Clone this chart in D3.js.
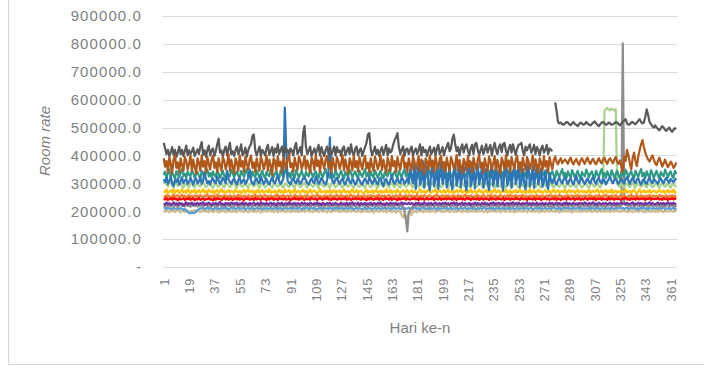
<!DOCTYPE html>
<html><head><meta charset="utf-8">
<script src="https://cdn.jsdelivr.net/npm/d3@7/dist/d3.min.js"></script>
<style>body{margin:0;background:#fff}svg{display:block}</style>
</head><body>
<script>
// values in thousands of rupiah
const UNIT = 1000;
const yTicks = [0,100000,200000,300000,400000,500000,600000,700000,800000,900000];
const xTickDays = [1,19,37,55,73,91,109,127,145,163,181,199,217,235,253,271,289,307,325,343,361];
const days = d3.range(1, 366);

const rateTan = [
202,198,205,200,196,204,199,203,197,201,206,199,195,202,200,197,204,198,201,196,203,199,205,197,200,
204,197,201,199,206,198,202,196,203,200,197,205,199,201,195,203,198,204,200,196,202,199,206,197,201,
198,203,196,201,205,199,202,197,204,200,196,203,199,206,197,201,198,204,200,195,202,199,205,198,201,
203,199,205,197,200,204,196,202,199,206,198,201,197,203,200,196,205,199,202,198,204,197,201,199,203,
197,202,200,205,198,201,196,204,199,203,197,200,206,198,202,199,195,204,200,197,203,199,201,205,198,
201,197,204,199,202,196,205,200,198,203,199,201,197,204,200,196,202,199,206,198,201,197,203,200,195,
204,199,202,197,205,200,198,203,196,201,199,204,197,202,200,195,203,199,201,185,178,190,172,180,195,
200,186,204,198,201,197,203,199,205,196,202,200,198,204,197,201,199,203,196,202,200,205,198,201,197,
203,199,201,196,204,200,198,202,197,205,199,201,196,203,200,198,204,197,202,199,206,198,201,197,203,
199,204,197,201,200,196,203,198,205,199,202,197,201,204,196,200,203,199,197,202,205,198,201,199,196,
202,198,205,199,201,197,204,200,196,203,199,202,198,205,197,201,200,196,204,199,202,197,203,200,198,
205,199,201,197,203,200,196,204,198,202,199,206,197,201,200,195,203,199,202,198,204,197,201,199,203,
198,202,200,205,197,201,199,204,196,203,200,198,202,197,205,199,201,196,204,200,198,203,199,201,197,
203,199,205,198,201,197,204,200,196,202,199,203,197,201,205,198,200,196,204,199,202,197,203,200,198,
201,197,204,199,202,196,203,200,198,205,199,201,197,203,200];

const rateLightBlue = [
210,212,208,214,209,211,206,213,210,208,212,207,211,209,205,208,203,198,194,192,196,193,195,199,204,
208,211,209,213,207,210,212,208,214,209,206,211,213,208,210,207,212,209,214,208,211,206,210,213,209,
212,207,210,214,208,211,209,213,206,210,212,208,211,214,207,209,212,210,208,213,206,211,209,212,208,
210,213,207,211,209,214,208,210,212,206,211,209,213,208,210,212,207,214,209,211,208,213,210,206,212,
208,211,214,207,210,212,209,213,208,206,211,210,214,207,212,209,211,208,213,210,206,212,209,214,208,
211,209,213,207,210,212,208,214,209,211,206,210,213,208,212,209,207,211,214,208,210,212,209,206,211,
213,208,210,212,207,211,209,214,208,210,212,206,211,209,213,208,210,214,207,211,209,212,208,210,213,
207,211,209,213,210,208,212,206,211,214,209,210,208,213,207,211,209,212,210,206,213,208,211,209,214,
209,212,207,210,213,208,211,209,214,206,210,212,208,211,213,207,210,209,212,208,214,210,207,211,209,
212,208,211,214,207,210,209,213,208,212,206,211,209,214,208,210,212,207,211,209,213,208,210,212,206,
210,213,208,211,209,212,207,214,210,208,211,213,206,209,212,210,208,214,207,211,209,213,208,210,212,
207,211,214,209,210,208,213,206,211,209,212,210,214,208,211,207,213,209,210,212,208,214,207,211,209,
211,209,212,207,213,210,208,214,209,211,206,212,210,208,213,209,211,207,214,210,208,212,209,211,213,
209,212,208,211,214,207,210,212,209,213,208,211,206,210,214,209,212,208,211,207,213,210,209,212,208,
211,208,213,209,210,214,207,211,209,212,208,210,213,207,211];

const rateGray = [
220,218,224,216,222,219,225,217,221,223,215,220,226,218,222,217,224,219,221,216,223,220,218,225,217,
222,219,224,216,221,225,218,220,223,217,222,219,226,216,221,224,218,220,222,217,225,219,221,216,223,
218,224,220,217,222,219,225,216,221,223,218,220,224,217,222,219,226,218,221,216,223,220,218,224,219,
221,217,223,220,218,225,216,222,219,224,218,221,216,223,220,225,217,222,219,221,216,224,218,220,223,
217,222,219,224,216,221,225,218,220,223,217,222,219,226,216,221,224,218,220,222,217,225,219,221,216,
223,218,224,220,217,222,219,225,216,221,223,218,220,224,217,222,219,226,218,221,216,223,220,218,224,
219,221,217,223,220,218,225,216,222,219,224,218,221,216,223,220,225,217,222,219,215,200,170,128,195,
205,212,219,224,216,221,225,218,220,223,217,222,219,226,216,221,224,218,220,222,217,225,219,221,216,
223,218,224,220,217,222,219,225,216,221,223,218,220,224,217,222,219,226,218,221,216,223,220,218,224,
219,221,217,223,220,218,225,216,222,219,224,218,221,216,223,220,225,217,222,219,221,216,224,218,220,
223,217,222,219,224,216,221,225,218,220,223,217,222,219,226,216,221,224,218,220,222,217,225,219,221,
216,223,218,224,220,217,222,219,225,216,221,223,218,220,224,217,222,219,226,218,221,216,223,220,218,
224,219,221,217,223,220,218,225,216,222,219,224,218,221,216,223,220,225,217,222,219,221,216,224,218,
220,802,236,223,230,217,222,219,224,216,221,225,218,220,223,217,222,219,226,216,221,224,218,220,222,
217,225,219,221,216,223,218,224,220,217,222,219,225,216,221];

const ratePurple = [
228,224,231,226,229,222,227,232,225,229,223,230,226,228,221,227,232,224,229,226,231,223,228,225,230,
224,229,226,232,223,228,225,231,227,222,229,226,230,224,228,233,225,227,222,230,226,229,224,231,227,
229,225,231,223,228,226,232,224,229,227,222,230,225,228,231,224,227,229,223,232,226,228,225,230,224,
227,231,224,229,226,222,230,228,225,231,223,227,229,224,232,226,228,225,230,223,229,227,224,231,226,
230,225,228,223,231,227,224,229,226,232,225,228,222,230,227,224,229,226,231,223,228,225,230,227,224,
226,231,224,228,225,230,223,229,227,232,224,228,226,231,222,229,227,225,230,224,228,226,231,223,229,
228,224,230,226,232,225,227,223,229,228,224,231,226,229,225,230,223,228,226,232,224,229,227,225,230,
225,229,227,223,230,226,231,224,228,225,232,227,224,229,226,230,223,228,231,225,227,229,224,230,226,
231,226,228,224,229,227,232,225,230,223,228,226,231,224,229,227,225,230,222,228,226,231,224,229,227,
224,230,226,231,225,228,223,229,227,232,224,229,226,230,225,228,231,223,227,229,224,230,226,232,225,
229,225,231,227,224,230,226,228,232,225,229,223,230,227,225,231,224,228,226,230,223,229,227,225,231,
226,230,224,228,231,225,229,227,223,230,226,232,224,229,227,225,231,226,228,224,230,227,229,225,232,
228,224,230,226,229,232,225,228,223,231,227,225,229,226,230,224,228,231,225,227,230,224,229,226,228,
231,226,228,224,230,227,225,229,232,224,228,226,231,225,229,227,223,230,226,228,232,225,229,227,224,
228,231,225,229,226,230,224,228,232,226,229,225,230,227,224];

const rateGold = [
272,268,278,265,270,275,268,280,266,272,276,264,270,278,268,273,266,279,271,265,274,269,277,264,270,
276,266,271,279,267,273,265,278,270,268,275,263,272,277,266,270,280,268,274,265,271,276,267,273,269,
265,278,270,268,274,263,271,277,266,272,279,267,270,275,264,273,268,278,266,271,276,265,270,274,268,
279,266,272,268,275,264,270,277,267,273,265,278,269,271,276,264,272,268,280,266,270,274,265,271,277,
267,273,264,270,278,266,272,275,268,263,271,279,267,270,274,265,273,268,277,264,270,276,266,272,269,
275,265,271,278,267,270,273,264,272,279,266,269,276,265,271,274,268,263,270,277,266,273,268,275,264,
271,278,266,270,274,265,272,268,279,267,270,276,264,271,273,266,278,269,265,272,275,267,270,277,264,
270,276,266,273,268,264,271,279,267,270,274,265,272,277,268,266,273,270,278,264,271,275,267,269,276,
265,272,278,267,270,274,263,271,276,268,272,279,266,270,275,264,273,268,277,266,271,274,265,270,278,
268,273,265,271,277,266,270,274,264,272,279,267,270,276,265,271,273,268,278,266,270,275,264,272,269,
276,266,271,278,267,270,274,265,272,268,279,266,271,275,264,270,277,268,273,265,271,276,267,270,274,
264,272,278,267,270,275,266,271,273,268,279,265,270,276,267,272,274,264,271,277,266,270,275,268,273,
266,271,277,265,270,274,268,272,279,266,270,275,264,271,276,267,273,268,278,265,270,274,266,272,269,
275,266,271,278,267,270,273,265,272,277,268,264,271,279,266,270,275,267,272,268,276,265,271,274,270,
266,272,277,268,270,274,265,271,276,267,273,269,278,266,271];

const rateOrange = [
255,250,258,252,256,249,254,260,251,255,257,250,253,259,252,256,249,254,258,251,255,250,257,253,256,
251,258,253,249,256,254,260,250,255,252,257,249,254,259,251,256,253,250,258,252,255,249,257,254,251,
256,250,254,259,252,255,249,257,253,251,258,254,250,256,252,260,249,255,253,257,250,254,258,251,255,
249,257,253,251,256,254,259,250,255,252,258,249,254,257,251,256,253,250,259,252,255,249,257,254,251,
256,251,258,253,249,255,257,252,254,260,250,256,253,249,257,252,255,251,258,254,250,256,253,259,251,
254,258,250,255,252,257,249,254,259,251,256,253,250,258,252,255,249,257,254,251,256,250,258,253,255,
249,256,253,259,251,255,252,257,250,254,258,252,249,256,253,257,251,255,260,250,254,252,258,249,255,
253,257,250,255,252,259,249,254,256,251,258,253,250,255,257,252,249,256,254,259,251,255,252,257,250,
256,252,258,250,254,257,251,255,249,258,253,256,250,254,259,252,255,251,257,253,249,256,252,258,254,
251,255,258,252,250,256,254,259,250,253,257,251,255,249,258,254,252,256,250,257,253,259,251,255,252,
258,250,254,256,252,259,251,255,253,249,257,252,256,254,250,258,253,255,251,257,249,254,256,252,258,
252,256,250,257,254,251,259,253,255,249,256,252,258,250,254,257,251,255,253,259,250,256,252,254,257,
250,255,258,252,256,249,254,257,251,258,253,250,256,254,259,251,255,252,257,250,254,258,253,249,256,
254,251,257,253,250,256,252,259,254,251,255,258,250,253,257,252,255,249,256,254,258,251,253,257,252,
255,250,258,253,256,251,254,257,249,255,252,258,250,256,253];

const rateRed = [
245,242,247,240,244,246,241,248,243,245,239,246,242,244,247,240,245,243,248,241,244,246,239,245,242,
247,241,244,246,240,245,243,248,242,244,239,246,241,247,243,245,240,244,248,242,246,241,243,247,240,
244,246,242,248,241,245,243,239,246,244,247,241,243,245,240,248,242,246,244,241,247,243,245,239,246,
242,245,247,241,244,246,240,248,243,245,242,247,241,244,246,239,245,243,248,242,246,241,244,247,243,
240,246,243,245,241,248,244,242,246,240,245,247,243,241,246,244,248,242,245,240,247,243,246,241,244,
247,242,245,243,248,241,244,246,240,245,243,247,242,246,244,241,248,243,245,239,246,242,247,244,241,
245,243,248,241,246,244,240,247,243,245,242,248,241,244,246,243,239,247,242,245,244,248,241,246,243,
241,246,244,247,242,245,240,248,243,246,241,244,247,242,245,243,248,240,246,244,242,247,241,245,243,
246,242,247,243,245,241,248,244,240,246,243,247,242,245,241,248,244,246,240,247,243,245,242,248,241,
244,247,241,246,243,245,240,248,242,246,244,241,247,243,245,242,248,240,246,243,247,241,245,244,242,
247,243,245,241,248,244,242,246,240,247,243,245,242,248,241,246,244,247,240,245,243,248,242,246,241,
243,246,242,248,241,245,244,240,247,243,246,241,248,244,242,245,247,240,246,243,248,241,245,242,247,
245,241,247,243,246,242,248,240,245,244,247,241,246,243,245,240,248,242,246,244,241,247,243,245,242,
241,246,244,248,242,245,240,247,243,246,241,248,244,242,246,243,247,240,245,244,248,241,246,243,245,
244,247,242,245,241,248,243,246,240,245,243,247,242,246,244];

const rateLightGreen = [
300,306,295,288,310,301,292,285,298,305,290,296,302,288,284,295,300,292,286,298,304,290,285,296,300,
292,288,300,306,294,286,290,298,302,288,284,296,300,292,287,295,303,290,285,298,301,293,286,290,299,
304,289,284,296,300,291,287,294,302,290,285,297,301,292,288,295,303,289,284,298,300,293,286,291,298,
305,290,284,296,301,292,288,294,302,289,285,297,300,291,287,295,304,290,284,298,301,292,286,290,299,
303,289,285,296,300,292,287,295,302,290,284,297,301,291,288,294,303,289,285,298,300,293,286,291,298,
305,290,284,296,301,292,288,294,302,289,285,297,300,291,287,295,304,290,284,298,301,292,286,290,299,
302,288,284,295,300,293,287,296,303,290,285,298,301,291,286,294,302,289,284,297,300,292,288,291,298,
305,291,285,296,300,292,287,294,301,289,284,297,302,290,288,295,304,291,285,298,300,293,286,290,299,
303,290,284,296,301,291,287,295,302,289,285,298,300,292,288,294,303,290,284,297,301,292,287,291,298,
304,289,285,296,300,293,286,294,302,290,284,297,301,291,288,295,303,289,285,298,300,292,287,290,299,
302,290,284,295,301,292,288,294,303,289,285,297,300,291,286,296,304,290,284,298,301,293,287,291,298,
305,290,285,296,300,292,287,295,302,289,284,298,301,291,288,294,303,290,285,297,300,292,286,290,299,
303,289,284,296,301,293,287,294,302,290,285,297,300,560,566,570,564,562,568,565,561,566,298,291,288,
304,290,285,296,300,292,287,295,302,289,284,298,301,291,288,294,303,290,285,297,300,292,286,290,299,
302,289,285,296,301,292,288,294,303,290,284,297,300,291,288];

const rateTeal = [
330,342,318,336,350,324,338,328,316,344,334,321,339,351,327,335,319,343,331,325,347,337,319,334,341,
327,317,345,333,323,339,349,325,337,321,343,329,323,347,335,319,333,345,327,317,341,331,325,349,337,
321,335,343,327,319,345,333,323,339,351,325,337,319,343,329,321,347,335,319,333,345,327,317,341,331,
325,349,337,321,335,343,327,319,345,333,323,339,351,325,337,319,343,329,321,347,335,319,333,345,327,
317,341,331,325,349,337,321,335,343,327,319,345,333,323,339,351,325,337,319,343,329,321,347,335,319,
333,345,327,317,341,331,325,349,337,321,335,343,327,319,345,333,323,339,351,325,337,319,343,329,321,
347,335,319,333,345,327,317,341,331,325,349,337,321,335,343,327,319,345,333,323,339,351,325,337,319,
343,329,321,347,335,319,333,345,327,317,341,331,325,349,337,321,335,343,327,319,345,333,323,339,351,
325,337,319,343,329,321,347,335,319,333,345,327,317,341,331,325,349,337,321,335,343,327,319,345,333,
323,339,351,325,337,319,343,329,321,347,335,319,333,345,327,317,341,331,325,349,337,321,335,343,327,
319,345,333,323,339,351,325,337,319,343,329,321,347,335,319,333,345,327,317,341,331,325,349,337,321,
335,343,327,319,345,333,323,339,351,325,337,319,343,329,321,347,335,319,333,345,327,317,341,331,325,
349,337,321,335,343,327,319,345,333,323,339,351,325,337,319,343,329,321,347,335,319,333,345,327,317,
341,331,325,349,337,321,335,343,327,319,345,333,323,339,351,325,337,319,343,329,321,347,335,319,333,
345,327,317,341,331,325,349,337,321,335,343,327,319,345,333];

const rateBlue = [
315,305,320,298,310,325,300,290,312,305,318,296,308,322,300,310,315,298,305,320,308,295,312,318,300,
306,322,298,310,340,315,300,308,296,312,318,305,300,325,310,298,306,320,312,300,345,315,305,298,310,
318,304,296,312,322,300,308,315,298,306,320,350,310,300,296,312,318,304,300,325,310,298,306,316,302,
296,310,322,305,300,314,330,308,298,305,318,572,420,310,302,296,312,320,305,300,315,308,298,306,318,
320,312,300,296,310,318,305,300,325,312,298,306,320,310,300,296,312,340,465,330,305,300,314,320,306,
298,310,318,302,296,312,324,305,300,316,308,296,304,320,312,300,295,310,318,304,300,322,310,298,306,
318,305,296,312,320,300,290,310,316,302,296,312,330,305,298,310,318,304,300,322,312,298,306,318,300,
350,320,300,370,280,340,365,295,310,380,285,330,360,300,275,345,372,290,315,360,280,335,375,298,320,
365,285,310,355,300,278,340,368,292,318,372,286,330,360,300,275,345,380,290,312,358,282,336,370,296,
322,362,284,308,352,300,276,342,366,292,316,374,288,328,358,302,274,344,378,292,310,356,284,334,368,
298,320,364,286,306,350,300,278,340,372,290,314,360,284,330,366,296,318,354,288,306,346,300,280,338,
310,300,318,305,296,312,320,306,300,315,322,308,298,310,318,304,296,312,326,306,300,314,320,305,298,
310,318,304,300,316,322,306,298,312,320,305,300,318,310,296,306,314,322,308,300,312,318,305,298,310,
316,304,300,315,322,308,298,312,320,306,300,314,318,304,296,310,316,302,298,312,320,306,300,315,310,
304,298,312,318,306,300,314,320,308,302,316,310,304,312,318];

const rateDarkGray = [
445,425,405,420,398,412,430,402,420,395,410,432,405,420,398,415,435,400,418,405,415,428,398,410,422,
405,430,448,402,418,395,420,435,400,418,425,398,415,440,460,410,418,395,420,432,400,425,445,405,415,
398,418,432,405,418,440,400,410,428,395,418,432,440,470,475,420,400,415,432,398,420,412,400,425,438,
402,415,430,398,425,410,440,405,418,432,398,430,412,420,398,425,418,400,430,445,405,415,430,400,480,
505,430,405,418,432,398,412,425,405,420,438,400,430,412,398,420,432,405,428,400,415,432,400,430,412,
418,398,425,432,400,415,428,405,440,412,398,425,432,400,418,425,398,415,430,445,475,480,425,400,415,
432,405,420,398,418,430,402,420,438,400,425,410,418,440,455,465,480,430,405,420,432,398,420,425,405,
420,432,398,415,425,405,420,440,400,430,412,420,398,418,432,405,415,428,400,425,438,405,415,430,400,
420,432,445,415,425,460,475,440,415,430,400,425,440,410,430,440,418,400,425,438,405,440,445,420,402,
418,435,405,420,440,410,425,438,400,425,445,420,405,430,440,412,440,445,418,400,425,438,410,440,420,
402,425,438,440,445,415,400,432,418,430,440,410,420,438,405,430,420,400,425,435,410,420,438,405,425,
420,415,null,590,560,520,515,518,512,510,515,520,518,512,508,515,520,512,510,505,512,518,515,510,512,
520,515,510,508,512,518,522,515,510,505,512,518,520,515,510,512,518,515,510,512,515,520,518,512,508,
515,520,525,530,515,510,512,518,520,515,512,518,525,530,520,515,518,540,565,545,520,512,505,500,508,
500,495,490,498,505,500,492,488,495,500,490,485,492,498,495];

const rateBrown = [
390,360,380,340,395,370,335,385,400,355,375,340,390,365,345,395,380,350,370,400,345,385,360,335,390,
375,345,400,360,380,340,395,370,350,385,400,355,375,340,390,365,345,395,380,350,370,405,345,385,360,
335,390,375,345,400,360,380,340,395,370,350,385,400,355,375,340,390,365,345,395,380,350,370,400,345,
385,365,330,390,380,345,398,362,378,338,392,372,352,388,402,358,372,342,392,368,348,396,382,352,368,
398,350,382,362,338,392,378,348,402,362,382,342,396,372,352,386,398,356,376,340,392,366,346,394,380,
352,372,402,346,386,360,336,390,376,346,400,358,380,342,394,370,350,384,398,354,374,340,390,362,344,
396,378,350,368,400,348,384,360,338,392,374,344,398,362,380,340,394,368,348,386,402,356,374,342,390,
364,346,396,380,350,370,398,344,386,362,334,390,376,348,400,360,382,340,396,370,352,388,398,354,376,
342,392,366,346,394,378,352,368,402,346,384,360,336,388,374,344,398,358,378,340,392,368,350,386,400,
356,374,338,390,364,344,396,380,350,370,398,346,384,362,336,392,376,348,400,360,382,342,394,370,352,
386,398,354,376,340,392,366,346,394,380,352,368,400,348,386,360,338,390,374,346,398,360,380,342,394,
370,350,384,396,376,368,382,390,372,380,386,378,370,384,392,376,368,380,388,374,366,382,390,378,370,
384,392,376,370,382,388,374,368,380,390,378,372,386,392,378,370,384,390,380,372,386,394,378,370,382,
360,340,396,380,420,400,372,350,390,410,380,362,395,420,440,455,430,410,396,385,378,390,400,386,372,
365,380,392,378,360,370,385,372,358,366,378,370,355,362,375];

// drawing order (first = bottom)
const seriesValues = [rateTan, rateLightBlue, rateGray, ratePurple, rateGold, rateOrange, rateRed,
                      rateLightGreen, rateTeal, rateBlue, rateDarkGray, rateBrown];
const seriesColors = ["#cdbd8e", "#5b9bd5", "#8c8c8c", "#7030a0", "#ffc000", "#ed7d31", "#ff0000",
                      "#a9d18e", "#2e9a86", "#2e75b6", "#595959", "#b0581a"];

const W = 704, H = 369;
const svg = d3.select("body").append("svg").attr("width", W).attr("height", H);
const FONT = "'Liberation Sans', Arial, sans-serif";

// outer frame
svg.append("rect").attr("x", 8.5).attr("y", -2).attr("width", 720).attr("height", 366.5)
  .attr("fill", "none").attr("stroke", "#d9d9d9").attr("stroke-width", 1.2);

const x = d3.scalePoint().domain(days).range([163.7, 676.3]);
const y = d3.scaleLinear().domain([0, 900000]).range([267, 16]);
const plotL = 163, plotR = 677;

// gridlines
svg.append("g").selectAll("line").data(yTicks).join("line")
  .attr("x1", plotL).attr("x2", plotR)
  .attr("y1", d => Math.round(y(d)) + 0.5).attr("y2", d => Math.round(y(d)) + 0.5)
  .attr("stroke", "#d9d9d9").attr("stroke-width", 1);

// y axis labels
const yAxis = svg.append("g").attr("transform", `translate(${plotL},0)`)
  .call(d3.axisLeft(y).tickValues(yTicks).tickSize(0).tickPadding(21)
    .tickFormat(d => d === 0 ? "-" : d.toFixed(1)));
yAxis.select(".domain").remove();
yAxis.selectAll("text").attr("font-family", FONT).attr("font-size", 15)
  .attr("letter-spacing", 1.1).attr("fill", "#7f7f7f");

// x axis labels
const xAxis = svg.append("g").attr("transform", `translate(0,${y(0)})`)
  .call(d3.axisBottom(x).tickValues(xTickDays).tickSize(0));
xAxis.select(".domain").remove();
xAxis.selectAll("text")
  .attr("transform", "rotate(-90)").attr("x", -11).attr("y", 0).attr("dy", "0.35em")
  .attr("text-anchor", "end").attr("font-family", FONT).attr("font-size", 13)
  .attr("letter-spacing", 0.6).attr("fill", "#7f7f7f");

// lines
const line = d3.line().defined(d => d != null)
  .x((d, i) => x(days[i])).y(d => y(d * UNIT));
svg.append("g").selectAll("path").data(seriesValues).join("path")
  .attr("d", line).attr("fill", "none")
  .attr("stroke", (d, i) => seriesColors[i]).attr("stroke-width", 2.2)
  .attr("stroke-linejoin", "round");

// axis titles
svg.append("text").attr("transform", "translate(50,141) rotate(-90)")
  .attr("text-anchor", "middle").attr("font-family", FONT).attr("font-size", 15)
  .attr("font-style", "italic").attr("fill", "#7f7f7f").text("Room rate");
svg.append("text").attr("x", 420).attr("y", 333)
  .attr("text-anchor", "middle").attr("font-family", FONT).attr("font-size", 15)
  .attr("fill", "#7f7f7f").text("Hari ke-n");
</script>
</body></html>
